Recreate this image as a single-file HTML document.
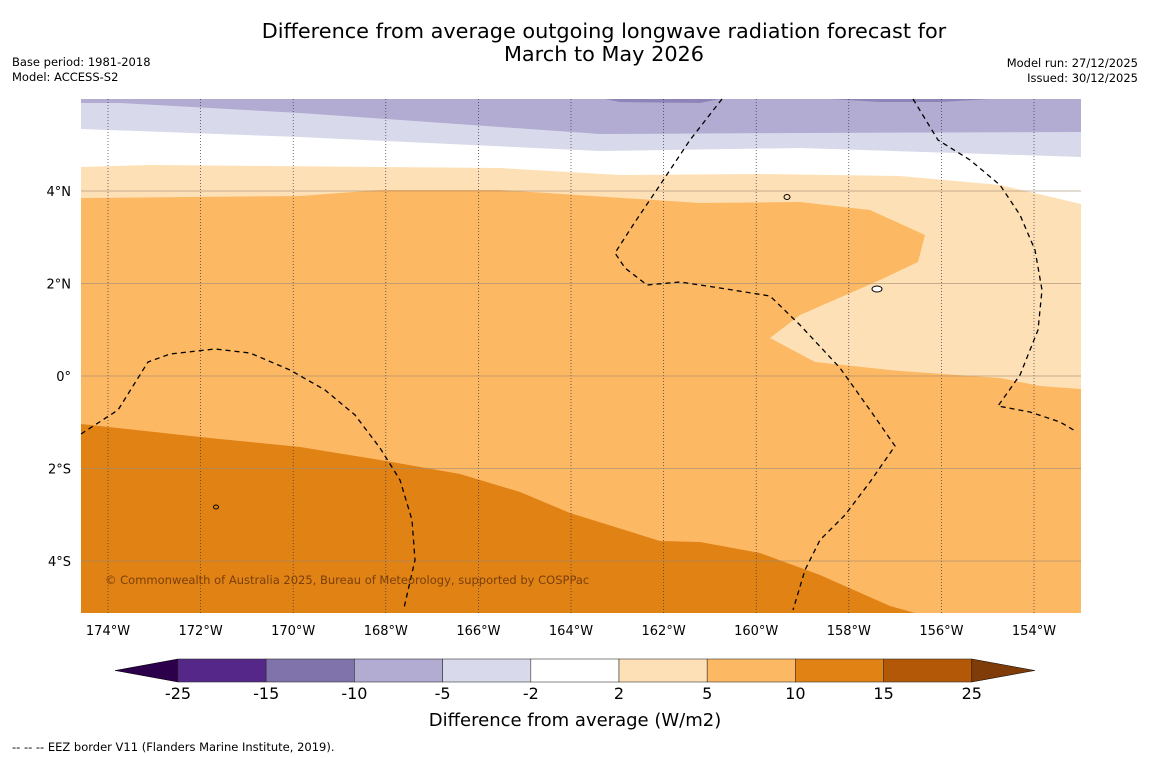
<!DOCTYPE html>
<html><head><meta charset="utf-8"><style>
body{margin:0;background:#fff;font-family:"DejaVu Sans","Liberation Sans",sans-serif;}
#wrap{position:relative;width:1150px;height:758px;overflow:hidden;background:#fff}
</style></head><body>
<div id="wrap">
<svg id="svg" width="1150" height="758" xmlns="http://www.w3.org/2000/svg" font-family="DejaVu Sans, Liberation Sans, sans-serif">
<text x="604" y="38" text-anchor="middle" font-size="20.8">Difference from average outgoing longwave radiation forecast for</text>
<text x="604" y="61" text-anchor="middle" font-size="20.8">March to May 2026</text>
<text x="12" y="66" font-size="11.5">Base period: 1981-2018</text>
<text x="12" y="81" font-size="11.5">Model: ACCESS-S2</text>
<text x="1138" y="67" font-size="11.5" text-anchor="end">Model run: 27/12/2025</text>
<text x="1138" y="82" font-size="11.5" text-anchor="end">Issued: 30/12/2025</text>
<g id="map">
<rect x="81" y="99" width="1000" height="514" fill="#fdb863"/>
<polygon fill="#e08214" points="81,424 200,437 300,447 380,460 460,474 520,492 570,513 660,541 700,542 760,553 820,575 890,606 915,613 81,613"/>
<polygon fill="#fee0b6" points="81,160 1081,160 1081,389 1040,386 1000,378 900,371 815,362 770,338 800,315 880,280 918,262 925,235 870,210 800,202 700,203 500,190 380,190 300,196 81,198"/>
<polygon fill="#ffffff" points="81,99 1081,99 1081,204 1000,185 900,176 760,174 620,175 500,168 150,165 81,167"/>
<polygon fill="#d8daeb" points="81,99 1081,99 1081,157 800,148 600,151 300,137 81,129"/>
<polygon fill="#b2abd2" points="81,99 1081,99 1081,132 800,133 600,134 300,113 120,103 81,103"/>
<polygon fill="#8073ac" opacity="0.7" points="605,99 720,99 700,103 620,102"/>
<polygon fill="#8073ac" opacity="0.7" points="830,99 990,99 940,102 880,102"/>
<g id="grid"></g>
<g fill="none" stroke="#000" stroke-width="1.3" stroke-dasharray="5,4">
<polyline points="81,434 118,410 148,362 170,354 215,349 250,353 290,370 325,390 355,415 380,448 400,480 412,520 415,560 404,608"/>
<polyline points="722,99 690,140 660,185 635,222 615,253 625,268 647,285 680,282 720,288 770,296 800,325 840,368 870,410 895,446 870,482 845,515 820,540 805,570 793,610"/>
<polyline points="913,99 938,140 970,160 1000,185 1020,215 1035,250 1042,290 1038,330 1020,375 998,406 1030,412 1060,422 1077,432"/>
</g>
<ellipse cx="787" cy="197" rx="3" ry="2.5" fill="none" stroke="#000"/>
<ellipse cx="877" cy="289" rx="5" ry="3" fill="#fff" stroke="#000"/>
<ellipse cx="216" cy="507" rx="2.5" ry="2" fill="none" stroke="#000"/>
<text x="105" y="584" font-size="11.5" fill="#7a3f0a">© Commonwealth of Australia 2025, Bureau of Meteorology, supported by COSPPac</text>
</g>
<g id="axes"></g>
<g id="cbar"></g>
<text x="575" y="726" font-size="18" text-anchor="middle">Difference from average (W/m2)</text>
<text x="12" y="751" font-size="11.5">--  --  -- EEZ border V11 (Flanders Marine Institute, 2019).</text>
</svg>
</div>
<script>
const lonTicks=[-174,-172,-170,-168,-166,-164,-162,-160,-158,-156,-154];
const latTicks=[4,2,0,-2,-4];
const cbLevels=["-25","-15","-10","-5","-2","2","5","10","15","25"];
const cbColors=["#542788","#8073ac","#b2abd2","#d8daeb","#ffffff","#fee0b6","#fdb863","#e08214","#b35806"];
const NS="http://www.w3.org/2000/svg";
const xLon=l=>108+(l+174)*46.3;
const yLat=l=>376-l*46.25;
function mk(t,a,p){const e=document.createElementNS(NS,t);for(const k in a)e.setAttribute(k,a[k]);p.appendChild(e);return e;}
const grid=document.getElementById('grid'),axes=document.getElementById('axes'),cb=document.getElementById('cbar');
lonTicks.forEach(l=>{
 const x=xLon(l);
 const g=mk('line',{x1:x,x2:x,y1:99,y2:613,stroke:'#334',"stroke-width":0.7,"stroke-dasharray":"1,2"},grid);
 
 
 const t=mk('text',{x:x,y:635,"font-size":13,"text-anchor":"middle"},axes);
 t.textContent=Math.abs(l)+'°W';
 
 
});
latTicks.forEach(l=>{
 const y=yLat(l);
 const g=mk('line',{x1:81,x2:1081,y1:y,y2:y,stroke:'#a08a70',"stroke-width":0.8,opacity:0.8},grid);
 
 
 const t=mk('text',{x:71,y:y+5,"font-size":13,"text-anchor":"end"},axes);
 t.textContent=l===0?'0°':Math.abs(l)+'°'+(l>0?'N':'S');
 
 
});
const cx0=178,cw=88.2,cy=659,ch=23;
const la=mk('polygon',{points:`115,${cy+ch/2} ${cx0},${cy} ${cx0},${cy+ch}`,fill:'#2d004b',stroke:'#000',"stroke-width":0.5},cb);


cbColors.forEach((c,i)=>{
 const r=mk('rect',{x:cx0+i*cw,y:cy,width:cw,height:ch,fill:c,stroke:'#333',"stroke-width":0.6},cb);
 
 
});
const xe=cx0+cbColors.length*cw;
const ra=mk('polygon',{points:`${xe},${cy} ${xe+63},${cy+ch/2} ${xe},${cy+ch}`,fill:'#7f3b08',stroke:'#000',"stroke-width":0.5},cb);


cbLevels.forEach((v,i)=>{
 const t=mk('text',{x:cx0+i*cw,y:699,"font-size":16,"text-anchor":"middle"},cb);
 t.textContent=v;
 
 
});
</script>
</body></html>
